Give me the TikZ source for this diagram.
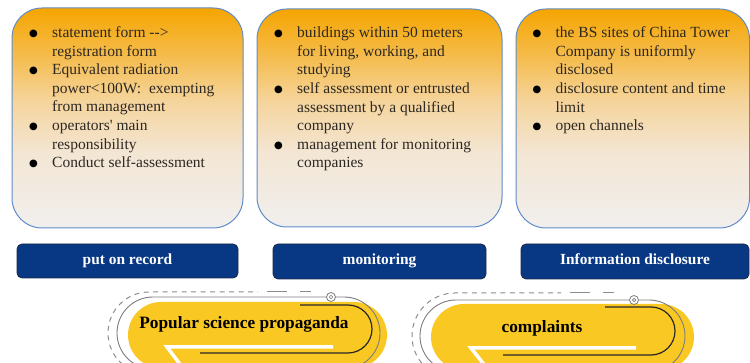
\documentclass[tikz,border=0pt]{standalone}
\usepackage{fontspec}
\setmainfont{Liberation Serif}

% colours
\definecolor{boxedge}{RGB}{95,140,200}
\definecolor{gradA}{RGB}{245,165,0}
\definecolor{gradB}{RGB}{245,186,70}
\definecolor{gradC}{RGB}{245,212,155}
\definecolor{gradD}{RGB}{243,230,212}
\definecolor{gradE}{RGB}{241,239,238}
\definecolor{listink}{RGB}{45,40,35}
\definecolor{navy}{RGB}{8,56,132}
\definecolor{navyedge}{RGB}{30,40,70}
\definecolor{pillyellow}{RGB}{250,200,35}
\definecolor{ringgray}{RGB}{125,125,125}
\definecolor{dashgray}{RGB}{140,140,140}
\definecolor{innerline}{RGB}{40,40,40}

% orange-to-pale vertical fill of the three topic boxes
\pgfdeclareverticalshading{boxgrad}{100bp}{%
  color(0bp)=(gradE); color(25bp)=(gradE); color(42bp)=(gradD);
  color(54bp)=(gradC); color(65bp)=(gradB); color(75bp)=(gradA);
  color(100bp)=(gradA)}

% list helpers: bullet cell and continuation indent
\newcommand\listbullet{\makebox[24.3pt][l]{\raisebox{-6.8pt}{\color{black}\fontsize{32}{0}\selectfont\textbullet}}}
\newcommand\listindent{\hspace*{24.3pt}}
\newcommand\listblock[1]{\parbox[t]{232pt}{\fontsize{15.5}{18.6}\selectfont#1}}

\begin{document}
\begin{tikzpicture}[x=1pt,y=1pt,
  infobox/.style={draw=boxedge, line width=1pt, rounded corners=30pt,
    shading=boxgrad, minimum width=#1, inner sep=0pt},
  listtext/.style={anchor=base west, inner sep=0pt, text=listink},
  tagbutton/.style={draw=navyedge, line width=0.8pt, fill=navy, rounded corners=5pt,
    minimum width=#1, minimum height=34pt, inner sep=0pt, text=white,
    font=\fontsize{15.4}{18}\selectfont\bfseries, text height=10.5pt, text depth=3.5pt},
  pill/.style={fill=pillyellow, rounded corners=33pt},
  pilllabel/.style={anchor=base, inner sep=0pt, font=\fontsize{17.3}{20}\selectfont\bfseries},
  outerring/.style={draw=ringgray, line width=0.9pt},
  dashring/.style={draw=dashgray, line width=1pt, dash pattern=on 5pt off 4.5pt},
  dashsolid/.style={draw=dashgray, line width=1pt},
  innerhook/.style={draw=innerline, line width=1.2pt},
  whitestripe/.style={draw=white, line width=3.5pt},
]
\useasboundingbox (0,0) rectangle (750,-363);
\clip (0,0) rectangle (750,-363);

% ---- topic boxes ----
\node[infobox=231pt, minimum height=220pt] (box1) at (127.5,-118) {};
\node[infobox=245pt, minimum height=218pt] (box2) at (379.5,-118) {};
\node[infobox=233.5pt, minimum height=219pt] (box3) at (632.75,-118.5) {};

\node[listtext] (list1) at (27.7,-37.5) {\listblock{%
  \listbullet statement form -{}->\\
  \listindent registration form\\
  \listbullet Equivalent radiation\\
  \listindent power<100W:\ \ exempting\\
  \listindent from management\\
  \listbullet operators\textquotesingle{} main\\
  \listindent responsibility\\
  \listbullet Conduct self-assessment}};

\node[listtext] (list2) at (272.7,-37.7) {\listblock{%
  \listbullet buildings within 50 meters\\
  \listindent for living, working, and\\
  \listindent studying\\
  \listbullet self assessment or entrusted\\
  \listindent assessment by a qualified\\
  \listindent company\\
  \listbullet management for monitoring\\
  \listindent companies}};

\node[listtext] (list3) at (531.1,-37.7) {\listblock{%
  \listbullet the BS sites of China Tower\\
  \listindent Company is uniformly\\
  \listindent disclosed\\
  \listbullet disclosure content and time\\
  \listindent limit\\
  \listbullet open channels}};

% ---- category buttons ----
\node[tagbutton=221pt] (record) at (127.5,-261) {put on record};
\node[tagbutton=213pt, minimum height=35pt] (monitor) at (379.5,-261.5) {monitoring};
\node[tagbutton=228pt, minimum height=35pt] (disclose) at (635,-261.5) {Information disclosure};

% ---- pill 1: popular science propaganda ----
\path[pill] (128,-302) rectangle (387,-368);
\path[outerring, rounded corners=36pt] (117,-297) rectangle (380,-369);
\path[dashring] (149,-374) arc[start angle=270, end angle=90, radius=41] -- (258,-292);
\path[dashsolid] (267,-292) -- (287,-292);
\path[dashsolid] (300,-292) -- (311,-292);
\path[innerhook] (300,-305) -- (348,-305) arc[start angle=90, end angle=-90, radius=24] -- (200,-353);
\path[whitestripe] (182,-367) -- (167,-347) -- (333,-347);
\node[circle, draw=ringgray, fill=white, line width=0.8pt, minimum size=9pt, inner sep=0pt] (knob1) at (331,-297) {};
\node[circle, draw=ringgray, line width=0.7pt, minimum size=3.5pt, inner sep=0pt] at (knob1) {};
\node[pilllabel] (popsci) at (244,-328.5) {Popular science propaganda};

% ---- pill 2: complaints ----
\path[pill] (431,-304) rectangle (694,-370);
\path[outerring, rounded corners=36pt] (420,-300) rectangle (685,-372);
\path[dashring] (455,-379) arc[start angle=270, end angle=90, radius=43] -- (561,-293);
\path[dashsolid] (570,-293) -- (590,-293);
\path[dashsolid] (603,-293) -- (614,-293);
\path[innerhook] (605,-307) -- (651,-307) arc[start angle=90, end angle=-90, radius=24] -- (503,-355);
\path[whitestripe] (486,-367) -- (471,-348) -- (636,-348);
\node[circle, draw=ringgray, fill=white, line width=0.8pt, minimum size=9pt, inner sep=0pt] (knob2) at (634,-300) {};
\node[circle, draw=ringgray, line width=0.7pt, minimum size=3.5pt, inner sep=0pt] at (knob2) {};
\node[pilllabel] (complaints) at (542,-333) {complaints};
\end{tikzpicture}
\end{document}
